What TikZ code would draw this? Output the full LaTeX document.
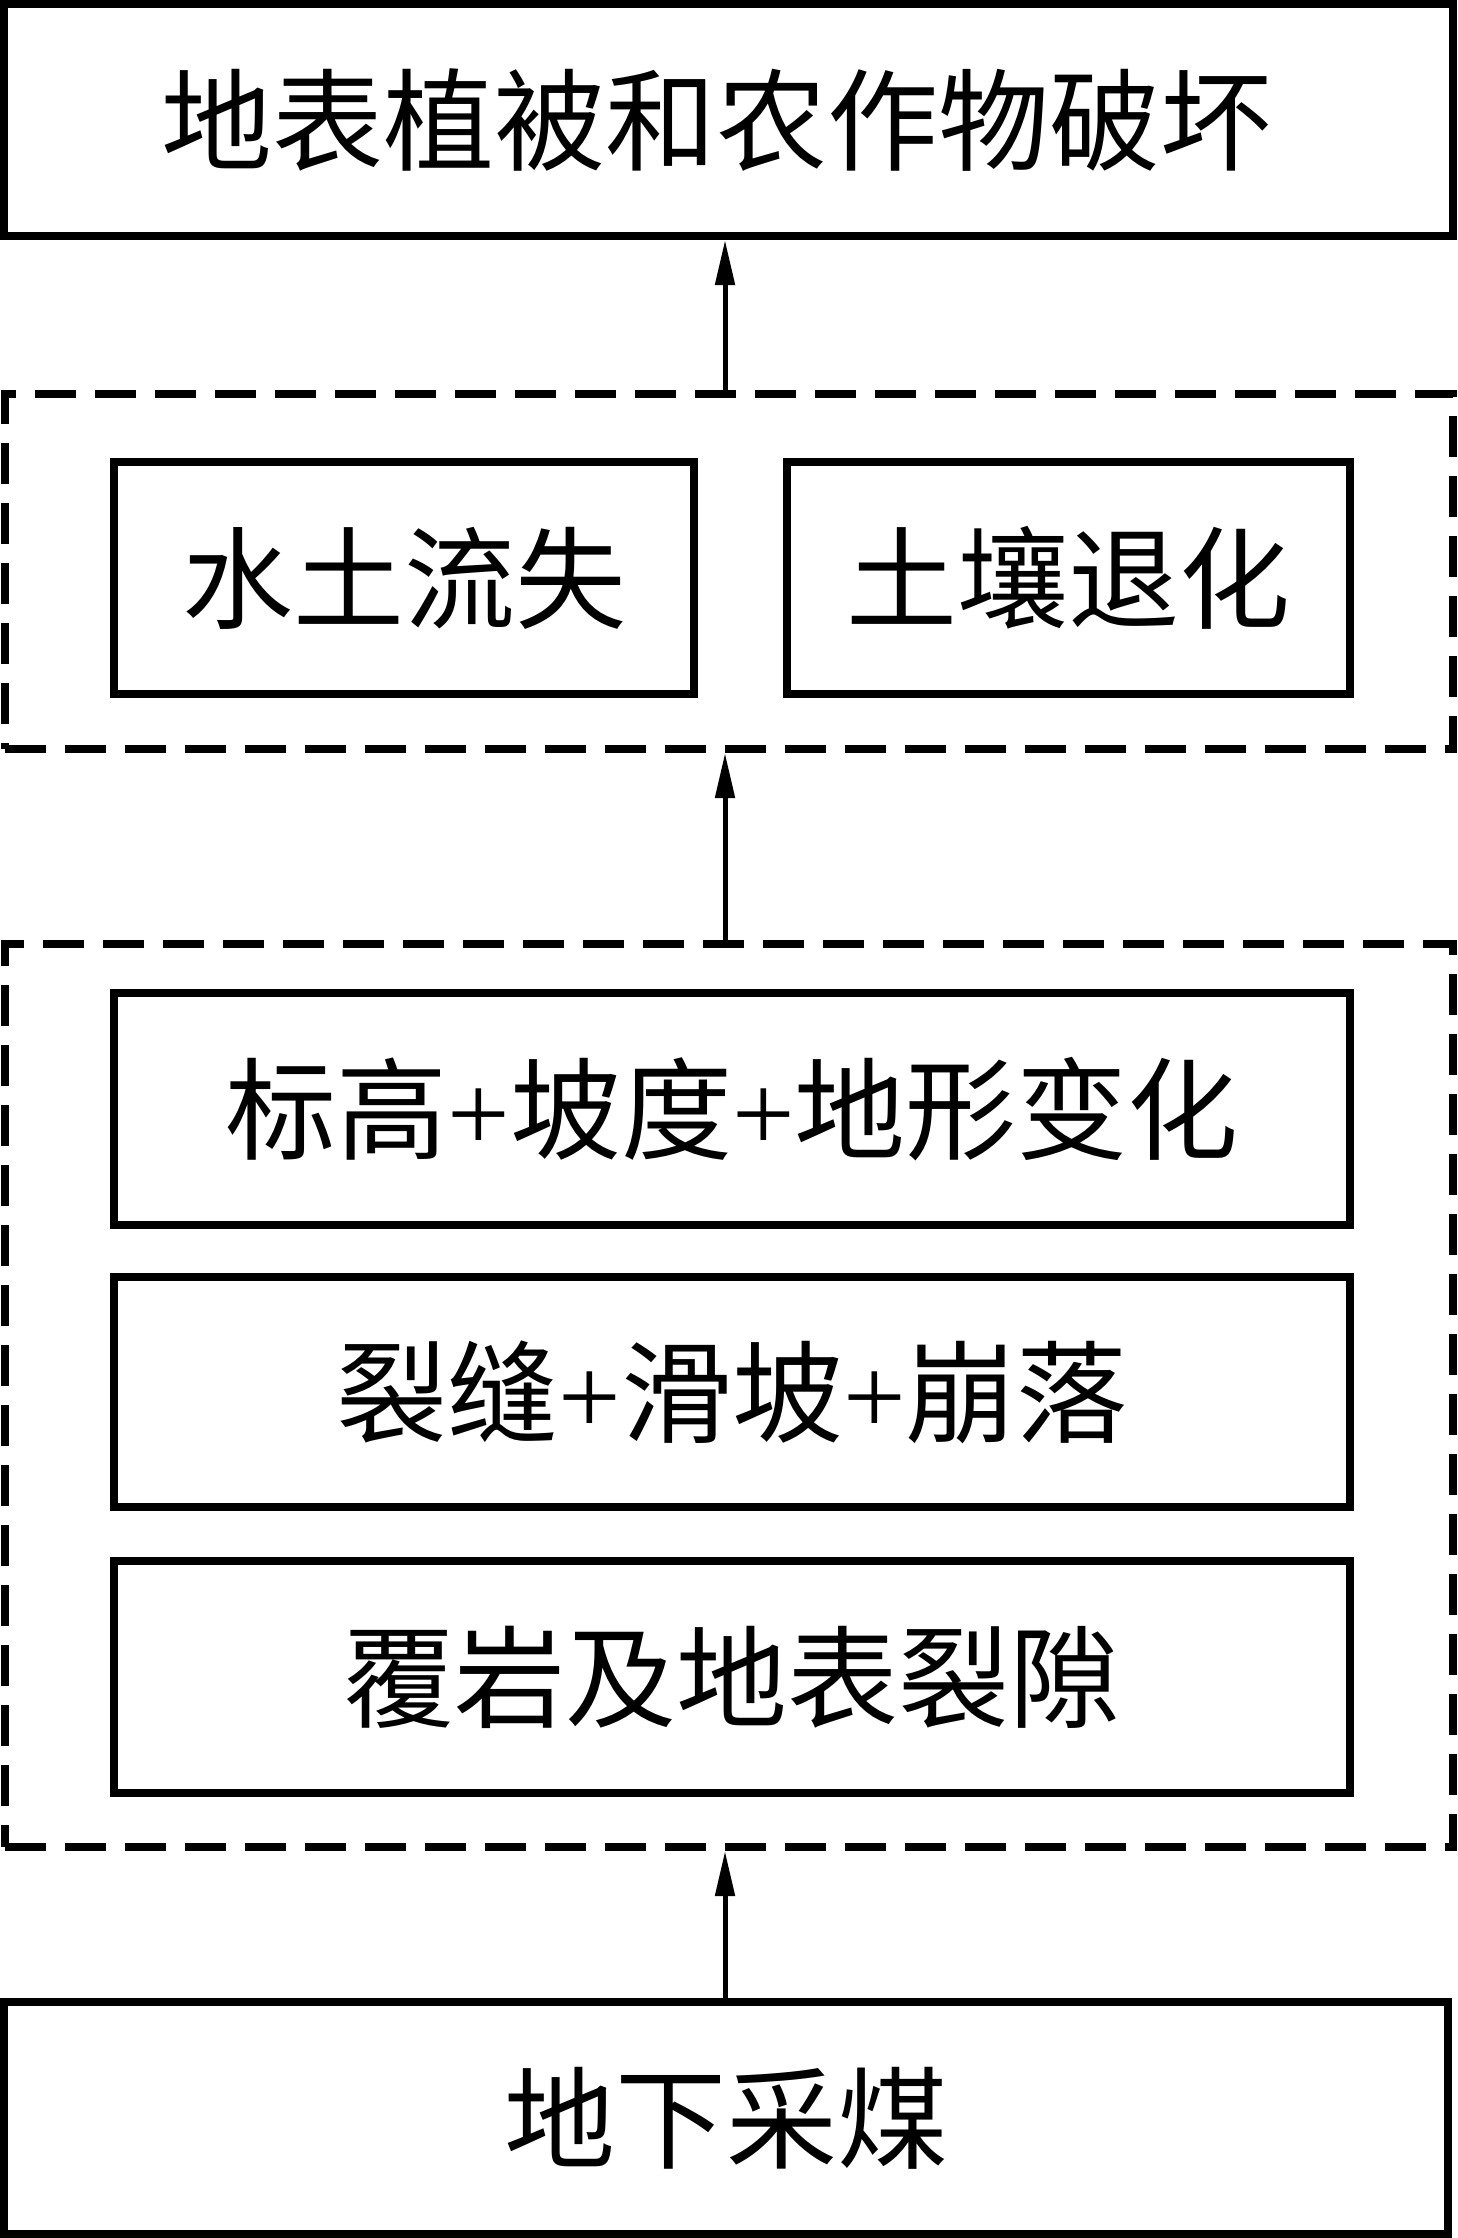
\documentclass[tikz,border=0pt]{standalone}
\usepackage{fontspec}
\setmainfont{Liberation Serif}
\newfontfamily\cjk{Noto Sans CJK SC}
\usetikzlibrary{arrows.meta}
\begin{document}
\begin{tikzpicture}[x=1pt,y=-1pt,
  solidbox/.style={draw,line width=8pt,rectangle,inner sep=0pt,font=\fontsize{111pt}{125pt}\selectfont\cjk},
  dashbox/.style={draw,line width=8pt,rectangle,inner sep=0pt,dash pattern=on 41pt off 19pt},
  arr/.style={line width=5pt,-{Triangle[length=45pt,width=19pt]}}]
\useasboundingbox (0,0) rectangle (1457,2238);
\node[solidbox,minimum width=1449pt,minimum height=232pt] (top) at (728.5,120) {\hspace*{-24pt}地表植被和农作物破坏};
\node[dashbox,minimum width=1448pt,minimum height=355pt] (d1) at (729,571.5) {};
\node[solidbox,minimum width=580pt,minimum height=232pt] (sl) at (404,578) {水土流失};
\node[solidbox,minimum width=563pt,minimum height=232pt] (sr) at (1068.5,578) {土壤退化};
\node[dashbox,minimum width=1448pt,minimum height=903pt] (d2) at (729,1395.5) {};
\node[solidbox,minimum width=1236pt,minimum height=232pt] (ba) at (732,1109) {标高{\rmfamily+}坡度{\rmfamily+}地形变化};
\node[solidbox,minimum width=1236pt,minimum height=230pt] (bb) at (732,1392) {裂缝{\rmfamily+}滑坡{\rmfamily+}崩落};
\node[solidbox,minimum width=1236pt,minimum height=232pt] (bc) at (732,1677) {覆岩及地表裂隙};
\node[solidbox,minimum width=1444pt,minimum height=232pt] (bot) at (726,2118) {地下采煤};
\coordinate (ax) at (725,0);
\draw[arr] (bot.north -| ax) -- (d2.south -| ax);
\draw[arr] (d2.north -| ax) -- (d1.south -| ax);
\draw[arr] (d1.north -| ax) -- (top.south -| ax);
\end{tikzpicture}
\end{document}
